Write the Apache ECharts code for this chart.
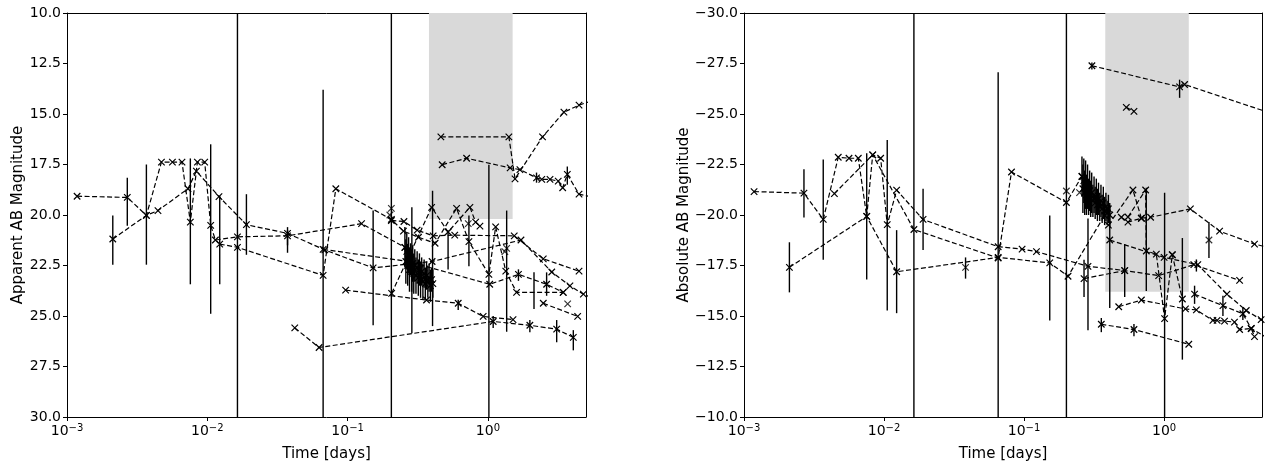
<!DOCTYPE html>
<html><head><meta charset="utf-8">
<script src="https://cdn.jsdelivr.net/npm/echarts/dist/echarts.min.js"></script>
<style>html,body{margin:0;padding:0;background:#fff}#c{width:1269px;height:467px}</style>
</head><body><div id="c"></div>
<script>
// ---------------- DATA (days, magnitude) ----------------
// Left panel: apparent AB magnitude
const appA1 = [[0.00118,19.07],[0.00269,19.13],[0.00368,20.02],[0.00471,17.38],[0.00564,17.38],[0.0066,17.38],[0.00757,20.35],[0.0085,17.38],[0.00958,17.38],[0.01057,20.51],[0.01142,21.24],[0.0164,21.08],[0.0373,21.03],[0.1257,20.43],[0.256,21.6]];
const appA2 = [[0.00212,21.19],[0.00368,20.02],[0.00445,19.78],[0.00728,18.70],[0.00836,17.83],[0.01211,19.09],[0.019,20.48],[0.0373,20.91],[0.0688,21.73],[0.152,22.62],[0.40,22.3],[1.72,21.24],[2.85,22.82],[3.84,23.51],[4.79,23.92],[5.5,24.1]];
const appA3 = [[0.01226,21.44],[0.0164,21.6],[0.0669,22.99],[0.0824,18.70],[0.205,20.22],[0.25,20.8],[0.32,21.1],[0.42,21.4],[0.598,19.67],[0.732,21.32],[1.016,22.94],[1.135,20.59],[1.34,22.78],[1.60,23.83],[3.44,23.83]];
const appA4 = [[0.042,25.59],[0.0626,26.56],[1.09,25.27],[1.99,25.46],[3.09,25.65],[4.06,26.06]];
const appA5 = [[0.0968,23.72],[0.365,24.21],[0.614,24.37],[0.925,25.02],[1.51,25.18]];
const appA6 = [[2.48,24.37],[4.36,25.02]];
const appA7 = [[0.0669,21.7],[0.27,22.3],[1.03,23.43],[1.65,22.94],[2.62,23.43],[3.44,23.83]];
const appA8 = [[0.206,23.88],[0.397,19.62],[0.52,20.84],[0.744,19.62],[0.817,20.35],[0.877,20.55]];
const appA9 = [[0.205,20.27],[0.252,20.32],[0.313,20.75],[0.407,21.03],[0.58,21.0],[1.54,21.03],[2.48,22.17],[4.46,22.78]];
const appT1 = [[0.462,16.13],[1.41,16.13],[1.56,18.21],[2.45,16.13],[3.48,14.91],[4.46,14.56],[5.5,14.35]];
const appT2 = [[0.472,17.51],[0.705,17.19],[1.44,17.67],[1.69,17.75],[2.22,18.16],[2.42,18.24],[2.77,18.24],[3.17,18.32],[3.41,18.65],[3.68,17.99],[4.46,18.97],[5.5,19.1]];
const appSingles = [[0.205,19.67],[3.70,24.40],[1.32,21.81],[1.36,21.65],[0.724,20.43],[0.2,20.0]];
const appClusterDays = [0.256,0.260,0.264,0.268,0.272,0.276,0.281,0.286,0.291,0.296,0.301,0.307,0.313,0.319,0.325,0.331,0.337,0.344,0.351,0.358,0.365,0.373,0.381,0.389,0.397,0.405];
const appClusterMag  = [21.6,22.3,21.8,22.5,22.0,22.7,22.2,22.8,22.4,22.9,22.5,23.0,22.6,23.1,22.7,23.2,22.8,23.3,22.9,23.4,23.0,23.3,23.1,23.5,23.2,23.4];
const appClusterErr  = [1.0,1.1,0.9,1.0,0.9,1.1,0.8,1.0,0.9,1.0,0.8,0.9,0.8,0.9,0.8,0.9,0.7,0.9,0.7,0.8,0.7,0.8,0.7,0.8,0.6,0.7];
// error bars: [days, low, high]
const appErr = [[0.00212,20.02,22.46],[0.00269,18.15,20.53],[0.00368,17.5,22.46],[0.00757,17.2,23.43],[0.01057,16.5,24.89],[0.01226,19.05,23.43],[0.0164,5,35],[0.019,18.97,21.97],[0.0373,20.75,21.87],[0.0669,13.8,35],[0.152,19.78,25.46],[0.205,5,35],[0.287,19.62,25.86],[0.403,18.8,25.5],[0.52,20.75,22.7],[0.732,20.02,22.54],[1.016,17.51,35],[1.36,19.78,25.78],[1.65,22.69,23.26],[2.13,22.84,24.65],[2.62,22.84,24.0],[2.22,17.9,18.4],[3.68,17.6,18.5],[0.614,24.2,24.7],[1.09,25.0,25.6],[1.99,25.2,25.8],[3.09,25.2,26.3],[4.06,25.7,26.7],[0.0373,20.6,21.5]];

// Right panel: absolute AB magnitude
const absB1 = [[0.305,-27.39],[1.29,-26.34],[1.40,-26.46],[5.5,-25.09]];
const absB2 = [[0.537,-25.33],[0.609,-25.13]];
const absB3 = [[0.00118,-21.16],[0.00268,-21.08],[0.00368,-19.78],[0.00471,-22.86],[0.00562,-22.81],[0.00655,-22.81],[0.00752,-19.93],[0.0083,-22.98],[0.00946,-22.81],[0.01054,-19.52],[0.0123,-21.23],[0.019,-19.78],[0.0653,-18.43],[0.0968,-18.31],[0.1226,-18.19],[0.286,-17.46],[0.523,-17.25],[0.914,-17.0],[1.63,-17.54],[3.46,-16.76]];
const absB4 = [[0.00211,-17.41],[0.00752,-19.93],[0.0123,-17.19],[0.0653,-17.90],[0.1525,-17.63],[0.206,-16.97],[0.376,-19.98]];
const absB5 = [[0.00442,-21.06],[0.0083,-22.98],[0.01634,-19.28],[0.0653,-17.87],[0.0813,-22.13],[0.2006,-20.62],[0.259,-21.92]];
const absB6 = [[0.409,-18.76],[1.0,-17.9],[1.74,-17.54],[2.81,-16.08],[3.86,-15.27],[4.93,-14.82],[5.5,-14.6]];
const absB7 = [[0.495,-19.89],[0.552,-19.65],[0.688,-19.84],[0.801,-19.89],[1.54,-20.30],[2.49,-19.2],[4.42,-18.56],[5.5,-18.4]];
const absB8 = [[0.40,-19.5],[0.599,-21.24],[0.688,-19.84]];
const absB9 = [[0.552,-19.9],[0.738,-21.24],[0.746,-18.22],[0.88,-18.06],[1.008,-14.87],[1.144,-18.03],[1.35,-15.84]];
const absB10 = [[0.356,-14.59],[0.609,-14.33],[1.50,-13.60]];
const absB11 = [[0.474,-15.46],[0.688,-15.79],[1.42,-15.35],[1.70,-15.30],[2.23,-14.78],[2.39,-14.78],[2.70,-14.75],[3.18,-14.70],[3.46,-14.33],[4.19,-14.38],[4.42,-13.98]];
const absB12 = [[1.65,-16.08],[2.63,-15.51],[3.65,-15.11],[4.19,-14.38],[5.5,-13.9]];
const absB13 = [[0.268,-16.85],[0.523,-17.25]];
const absSingles = [[2.09,-18.76],[0.2006,-21.19],[0.249,-21.11],[1.144,-18.03],[0.0382,-17.41]];
const absClusterDays = [0.259,0.263,0.267,0.271,0.275,0.279,0.284,0.289,0.294,0.299,0.304,0.310,0.316,0.322,0.328,0.334,0.340,0.347,0.354,0.361,0.368,0.376,0.384,0.392,0.400,0.409];
const absClusterMag  = [-21.9,-21.3,-21.7,-21.1,-21.5,-21.0,-21.4,-20.9,-21.2,-20.8,-21.1,-20.7,-21.0,-20.6,-20.9,-20.5,-20.8,-20.4,-20.7,-20.3,-20.6,-20.2,-20.4,-20.1,-20.3,-20.0];
const absClusterErr  = [1.0,1.2,1.1,1.1,1.2,1.0,1.1,0.9,1.0,0.9,1.0,0.8,0.9,0.8,0.9,0.8,0.8,0.7,0.8,0.7,0.8,0.7,0.7,0.6,0.7,0.6];
const absErr = [[0.00211,-18.65,-16.17],[0.00268,-22.26,-19.88],[0.00368,-22.75,-17.79],[0.00752,-23.06,-16.81],[0.01054,-23.71,-15.27],[0.0123,-19.25,-15.14],[0.01634,-35,-5],[0.019,-21.30,-18.27],[0.0382,-17.90,-16.85],[0.0653,-27.07,-5],[0.1525,-19.98,-14.78],[0.2006,-35,-5],[0.268,-17.79,-15.94],[0.286,-19.83,-14.3],[0.409,-20.5,-15.4],[0.523,-18.56,-15.94],[0.746,-21.35,-16.24],[1.008,-21.1,-5],[1.35,-18.86,-12.84],[1.65,-16.5,-15.6],[2.09,-19.65,-17.87],[0.609,-14.6,-14.0],[0.356,-14.9,-14.2],[1.29,-26.7,-25.8],[0.305,-27.55,-27.2],[1.70,-17.8,-17.2],[2.63,-16.0,-15.0],[3.65,-15.4,-14.8]];

// shaded interval: [startDay, endDay, magTop, magBottom]
const appBand = [[0.38, 1.5, 10, 20.2]];
const absBand = [[0.38, 1.5, -30, -16.2]];

const appLines = [appA1, appA2, appA3, appA4, appA5, appA6, appA7, appA8, appA9, appT1, appT2];
const absLines = [absB1, absB2, absB3, absB4, absB5, absB6, absB7, absB8, absB9, absB10, absB11, absB12, absB13];

// ---------------- CHART ----------------
const FONT = 'DejaVu Sans';
const XSYM = 'path://M0,0L10,10M10,0L0,10';
const chart = echarts.init(document.getElementById('c'));

function zipCluster(d, m) { return d.map((x, i) => [x, m[i]]); }
function clusterErr(d, m, e) { return d.map((x, i) => [x, m[i] - e[i], m[i] + e[i]]); }

function lineSeries(data, gi) {
  return {
    type: 'line', xAxisIndex: gi, yAxisIndex: gi, data: data, z: 4,
    symbol: XSYM, symbolSize: 6.5, showAllSymbol: true, animation: false, silent: true,
    lineStyle: { color: '#000', width: 1.2, type: [5, 2.5] },
    itemStyle: { color: '#000', borderColor: '#000', borderWidth: 1.2 }
  };
}
function scatterSeries(data, gi) {
  return {
    type: 'scatter', xAxisIndex: gi, yAxisIndex: gi, data: data, z: 4,
    symbol: XSYM, symbolSize: 6.5, animation: false, silent: true,
    itemStyle: { color: '#000', borderColor: '#000', borderWidth: 1.2 }
  };
}
function errSeries(data, gi) {
  return {
    type: 'custom', xAxisIndex: gi, yAxisIndex: gi, data: data, clip: true, z: 3,
    animation: false, silent: true, encode: { x: 0, y: [1, 2] },
    renderItem: function (params, api) {
      const a = api.coord([api.value(0), api.value(1)]);
      const b = api.coord([api.value(0), api.value(2)]);
      return { type: 'line', shape: { x1: a[0], y1: a[1], x2: b[0], y2: b[1] },
               style: { stroke: '#000', lineWidth: 1.4 } };
    }
  };
}
function bandSeries(data, gi) {
  return {
    type: 'custom', xAxisIndex: gi, yAxisIndex: gi, data: data, clip: true, z: 1,
    animation: false, silent: true, encode: { x: [0, 1], y: [2, 3] },
    renderItem: function (params, api) {
      const a = api.coord([api.value(0), api.value(2)]);
      const b = api.coord([api.value(1), api.value(3)]);
      return { type: 'rect', shape: { x: a[0], y: Math.min(a[1], b[1]), width: b[0] - a[0], height: Math.abs(b[1] - a[1]) },
               style: { fill: '#d9d9d9' } };
    }
  };
}

function xFmt(v) {
  const l = Math.log10(v); const e = Math.round(l);
  if (Math.abs(l - e) > 1e-6) return '';
  return '10{s|' + (e < 0 ? '\u2212' + (-e) : e) + '}';
}
function yFmt(v) { const s = v.toFixed(1); return s.replace('-', '\u2212'); }

function mainX(gi) {
  return {
    gridIndex: gi, type: 'log', logBase: 10, min: 0.001, max: 5,
    name: 'Time [days]', nameLocation: 'middle', nameGap: 30,
    nameTextStyle: { fontFamily: FONT, fontSize: 15, color: '#000' },
    axisLine: { lineStyle: { color: '#000', width: 1 } },
    axisTick: { show: true, length: 4, lineStyle: { color: '#000' } },
    minorTick: { show: false },
    splitLine: { show: false },
    axisLabel: { formatter: xFmt, margin: 6, color: '#000', fontFamily: FONT, fontSize: 14, lineHeight: 16,
                 showMaxLabel: false,
                 rich: { s: { fontFamily: FONT, fontSize: 10, lineHeight: 10, verticalAlign: 'top', color: '#000' } } }
  };
}
function topX(gi) {
  return { gridIndex: gi, type: 'log', logBase: 10, min: 0.001, max: 5, position: 'top',
    axisLine: { lineStyle: { color: '#000', width: 1 } }, axisTick: { show: false },
    axisLabel: { show: false }, splitLine: { show: false } };
}
function mainY(gi, min, max, name) {
  return {
    gridIndex: gi, type: 'value', min: min, max: max, interval: 2.5, inverse: true,
    name: name, nameLocation: 'middle', nameGap: 41,
    nameTextStyle: { fontFamily: FONT, fontSize: 15, color: '#000' },
    axisLine: { show: true, lineStyle: { color: '#000', width: 1 } },
    axisTick: { show: true, length: 4, lineStyle: { color: '#000' } },
    splitLine: { show: false },
    axisLabel: { formatter: yFmt, margin: 6, color: '#000', fontFamily: FONT, fontSize: 14 }
  };
}
function rightY(gi, min, max) {
  return { gridIndex: gi, type: 'value', min: min, max: max, inverse: true, position: 'right',
    axisLine: { show: true, lineStyle: { color: '#000', width: 1 } }, axisTick: { show: false },
    axisLabel: { show: false }, splitLine: { show: false } };
}

const series = [];
series.push(bandSeries(appBand, 0));
series.push(bandSeries(absBand, 1));
appLines.forEach(d => series.push(lineSeries(d, 0)));
absLines.forEach(d => series.push(lineSeries(d, 1)));
series.push(lineSeries(zipCluster(appClusterDays, appClusterMag), 0));
series.push(lineSeries(zipCluster(absClusterDays, absClusterMag), 1));
series.push(scatterSeries(appSingles, 0));
series.push(scatterSeries(absSingles, 1));
series.push(errSeries(appErr.concat(clusterErr(appClusterDays, appClusterMag, appClusterErr)), 0));
series.push(errSeries(absErr.concat(clusterErr(absClusterDays, absClusterMag, absClusterErr)), 1));

chart.setOption({
  animation: false,
  backgroundColor: '#fff',
  grid: [
    { left: 67, top: 13, width: 519, height: 411 },
    { left: 744, top: 13, width: 518, height: 411 }
  ],
  xAxis: [mainX(0), mainX(1), topX(0), topX(1)],
  yAxis: [mainY(0, 10, 30, 'Apparent AB Magnitude'), mainY(1, -30, -10, 'Absolute AB Magnitude'), rightY(0, 10, 30), rightY(1, -30, -10)],
  series: series
});
</script></body></html>
